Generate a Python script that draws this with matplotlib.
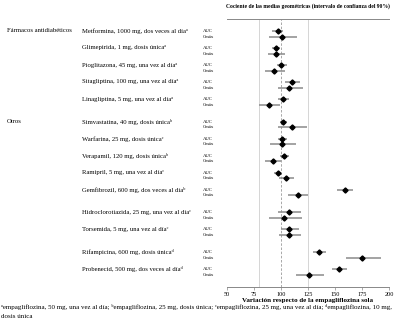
import matplotlib
matplotlib.use("Agg")
import matplotlib.pyplot as plt
import numpy as np

plt.rcParams['font.family'] = ['Liberation Serif', 'DejaVu Serif']

# ---- data ----
groups = ["Fármacos antidiabéticos", "Otros"]
group_start = [0, 5]
drugs = [
    "Metformina, 1000 mg, dos veces al día",
    "Glimepirida, 1 mg, dosis única",
    "Pioglitazona, 45 mg, una vez al día",
    "Sitagliptina, 100 mg, una vez al día",
    "Linagliptina, 5 mg, una vez al día",
    "Simvastatina, 40 mg, dosis única",
    "Warfarina, 25 mg, dosis única",
    "Verapamil, 120 mg, dosis única",
    "Ramipril, 5 mg, una vez al día",
    "Gemfibrozil, 600 mg, dos veces al día",
    "Hidroclorotiazida, 25 mg, una vez al día",
    "Torsemida, 5 mg, una vez al día",
    "Rifampicina, 600 mg, dosis única",
    "Probenecid, 500 mg, dos veces al día",
]
footmark = ["ᵃ", "ᵃ", "ᵃ", "ᵃ", "ᵃ", "ᵇ", "ᶜ", "ᵇ", "ᶜ", "ᵇ", "ᶜ", "ᶜ", "ᵈ", "ᵈ"]

auc = [97, 96, 100.5, 110.5, 102, 102, 101.5, 103, 97, 159, 107.5, 108, 135.5, 153.5]
auc_lo = [92, 92, 96.5, 104, 97, 99.5, 97, 99.5, 93.5, 152, 97.5, 100.5, 130, 147]
auc_hi = [102, 99, 105.5, 118, 108, 106, 106, 108, 100.5, 166.5, 119, 116.5, 142, 161.5]

cmax = [101, 96, 94, 108, 89, 110, 101, 93, 105, 115.5, 103, 108, 175.5, 126]
cmax_lo = [89, 88.5, 85.5, 97, 79.5, 97, 90, 85.5, 98, 106.5, 89, 98.5, 160.5, 114]
cmax_hi = [115, 104, 103.5, 120.5, 99.5, 124.5, 114, 100.5, 112.5, 125.5, 120, 119, 192.5, 139.5]

param_labels = ["AUC", "Cmáx"]
xticks = [50, 75, 100, 125, 150, 175, 200]
ref_lines = [80, 100, 125]

title = "Cociente de las medias geométricas (intervalo de confianza del 90%)"
xlabel = "Variación respecto de la empagliflozina sola"
foot1 = ("ᵃempagliflozina, 50 mg, una vez al día; "
         "ᵇempagliflozina, 25 mg, dosis única; "
         "ᶜempagliflozina, 25 mg, una vez al día; "
         "ᵈempagliflozina, 10 mg,")
foot2 = "dosis única"

# ---- layout (pixels) ----
W, H = 400, 326
fig = plt.figure(figsize=(W / 100, H / 100), dpi=100)
ax_left, ax_right = 226.7, 389.0
ax_top, ax_bot = 19.0, 287.0
ax = fig.add_axes([ax_left / W, 1 - ax_bot / H, (ax_right - ax_left) / W, (ax_bot - ax_top) / H])

row_step = 17.0
gap_after = {4: 5.7, 9: 5.7, 11: 5.7}
ys = []
y = 12.0
for i in range(len(drugs)):
    ys.append(y)
    y += row_step + gap_after.get(i, 0)
ys = np.array(ys)
cm_off = 5.7

ax.set_xlim(50, 200)
ax.set_ylim(ax_bot - ax_top, 0)

for v in ref_lines:
    if v == 100:
        ax.axvline(v, color="#9a9a9a", lw=0.6, ls=(0, (3, 2)), zorder=1)
    else:
        ax.axvline(v, color="#cfcfcf", lw=0.6, zorder=1)

ax.hlines(ys, auc_lo, auc_hi, color="#8a8a8a", lw=1.1, zorder=2)
ax.hlines(ys + cm_off, cmax_lo, cmax_hi, color="#8a8a8a", lw=1.1, zorder=2)
ax.plot(auc, ys, ls="none", marker="D", ms=2.6, color="black", zorder=3)
ax.plot(cmax, ys + cm_off, ls="none", marker="D", ms=2.6, color="black", zorder=3)

for s in ["left", "right"]:
    ax.spines[s].set_visible(False)
for s in ["top", "bottom"]:
    ax.spines[s].set_color("#888888")
    ax.spines[s].set_linewidth(0.7)
ax.set_yticks([])
ax.set_xticks(xticks)
ax.set_xticklabels([str(t) for t in xticks], fontsize=4.5)
ax.tick_params(axis="x", length=2, width=0.5, color="#888888", pad=1.5)
ax.set_xlabel(xlabel, fontsize=5.0, fontweight="bold", labelpad=0.5)
ax.set_title(title, fontsize=4.1, fontweight="bold", pad=8)

def fy(py):
    return 1 - py / H

for i, d in enumerate(drugs):
    py = ax_top + ys[i]
    fig.text(82 / W, fy(py), d + footmark[i], fontsize=4.8, va="center", ha="left")
    fig.text(203 / W, fy(py), param_labels[0], fontsize=3.4, va="center", ha="left")
    fig.text(203 / W, fy(py + cm_off), param_labels[1], fontsize=3.4, va="center", ha="left")

for g, st in zip(groups, group_start):
    py = ax_top + ys[st]
    fig.text(7 / W, fy(py), g, fontsize=4.8, va="center", ha="left")

fig.text(1 / W, fy(306.5), foot1, fontsize=5.0, va="center", ha="left")
fig.text(1 / W, fy(316.5), foot2, fontsize=5.0, va="center", ha="left")

fig.savefig("out.png", dpi=100)
